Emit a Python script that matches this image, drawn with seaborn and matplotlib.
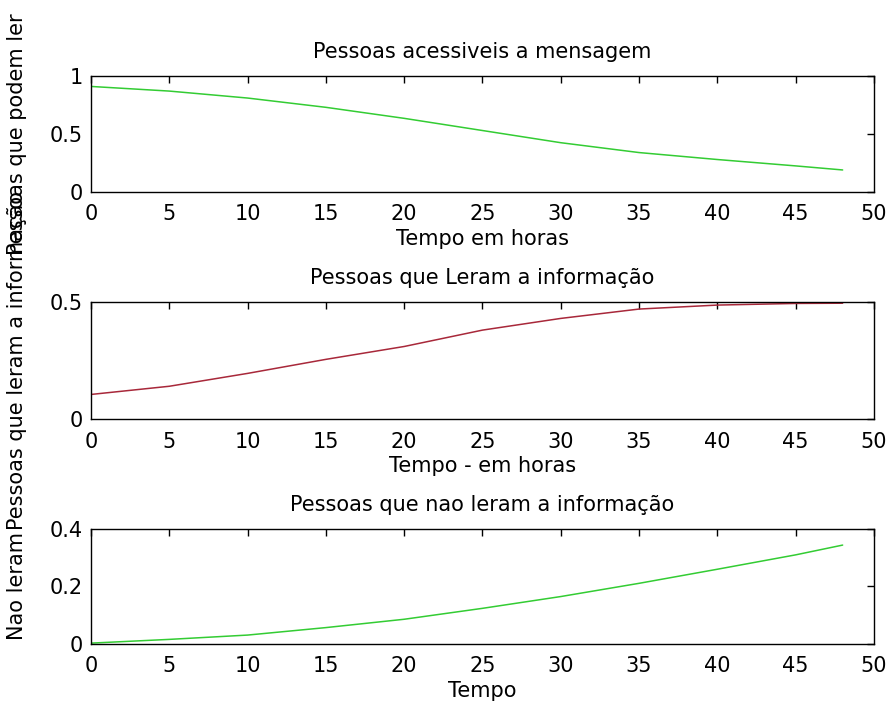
import numpy as np
import pandas as pd
import matplotlib
matplotlib.use('Agg')
import matplotlib.pyplot as plt
import seaborn as sns

# values at every 5 hours (last point at 48 h)
tempo = [0, 5, 10, 15, 20, 25, 30, 35, 40, 45, 48]
acessiveis = [0.91, 0.87, 0.81, 0.73, 0.635, 0.53, 0.425, 0.34, 0.28, 0.225, 0.19]
leram = [0.105, 0.14, 0.195, 0.255, 0.31, 0.38, 0.43, 0.47, 0.487, 0.494, 0.495]
nao_leram = [0.003, 0.016, 0.031, 0.057, 0.086, 0.124, 0.165, 0.211, 0.26, 0.31, 0.344]

titles = ['Pessoas acessiveis a mensagem', 'Pessoas que Leram a informação',
          'Pessoas que nao leram a informação']
xlabels = ['Tempo em horas', 'Tempo - em horas', 'Tempo']
ylabels = ['Pessoas que podem ler', 'Pessoas que leram a informação', 'Nao leram']
yticks = [[0, 0.5, 1], [0, 0.5], [0, 0.2, 0.4]]
yticklabels = [['0', '0.5', '1'], ['0', '0.5'], ['0', '0.2', '0.4']]
colors = ['#33cc33', '#a8283a', '#33cc33']

sns.set_style('white')
plt.rcParams['font.family'] = ['DejaVu Sans']
plt.rcParams['font.size'] = 15
plt.rcParams['text.color'] = 'black'
plt.rcParams['axes.labelcolor'] = 'black'

fig = plt.figure(figsize=(8.87, 7.09), dpi=100)
rects = [[0.1026, 0.7292, 0.8827, 0.1636],
         [0.1026, 0.4090, 0.8827, 0.1650],
         [0.1026, 0.0917, 0.8827, 0.1622]]

series = [acessiveis, leram, nao_leram]
for i in range(3):
    ax = fig.add_axes(rects[i])
    df = pd.DataFrame({'Tempo': tempo, 'Valor': series[i]})
    sns.lineplot(data=df, x='Tempo', y='Valor', ax=ax, color=colors[i], linewidth=1.1)
    ax.set_xlim(0, 50)
    ax.set_ylim(yticks[i][0], yticks[i][-1])
    ax.set_xticks(range(0, 51, 5))
    ax.set_yticks(yticks[i])
    ax.set_yticklabels(yticklabels[i])
    ax.tick_params(direction='in', length=5, width=1, top=True, right=True,
                   labelsize=15, colors='black')
    ax.tick_params(axis='x', pad=9)
    ax.tick_params(axis='y', pad=6)
    for s in ax.spines.values():
        s.set_visible(True)
        s.set_color('black')
        s.set_linewidth(1.0)
    ax.set_title(titles[i], fontsize=15, pad=13, color='black')
    ax.set_xlabel(xlabels[i], fontsize=15, labelpad=3)
    ax.set_ylabel(ylabels[i], fontsize=15)
    ax.yaxis.set_label_coords(-0.082, 0.5)
    ax.grid(False)

fig.savefig('out.png', dpi=100, facecolor='white')
